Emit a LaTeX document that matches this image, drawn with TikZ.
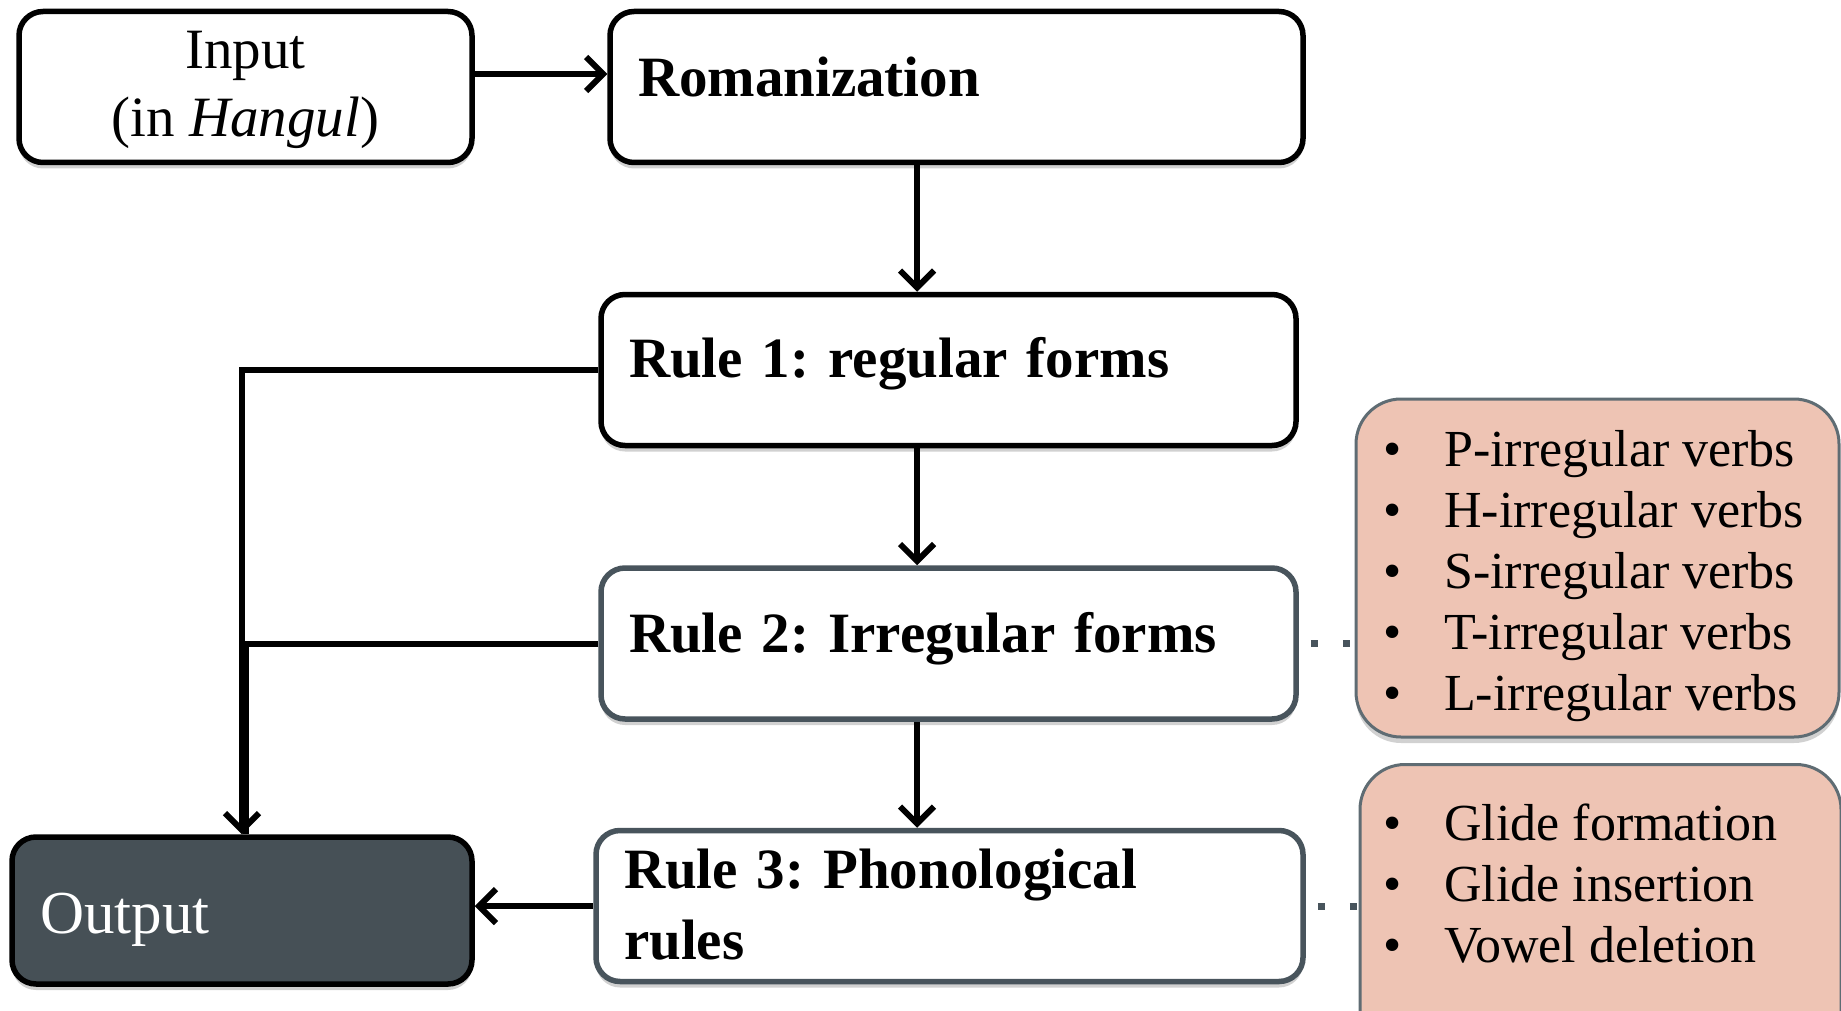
\documentclass[tikz,border=0pt]{standalone}
\usepackage{fontspec}
\setmainfont{Liberation Serif}
\usetikzlibrary{arrows.meta,shadows,calc}
\definecolor{slate}{RGB}{72,84,92}
\definecolor{outfill}{RGB}{70,80,86}
\definecolor{pinkfill}{RGB}{238,196,180}
\definecolor{pinkline}{RGB}{95,108,115}
\newcommand{\bitem}[1]{\makebox[61pt][l]{\textbullet}#1}
\newcommand{\up}[2]{\raisebox{#1}[\height][\depth]{#2}}
\frenchspacing
\begin{document}
\frenchspacing
\begin{tikzpicture}[x=1pt,y=-1pt,
  shade/.style={drop shadow={shadow xshift=0pt,shadow yshift=-6pt,opacity=0.18,fill=black}},
  box/.style={draw=black, line width=5.5pt, rounded corners=24pt, fill=white, shade,
     minimum height=151pt, inner ysep=0pt},
  leftbox/.style={box, inner xsep=28pt, align=left, text width=#1-56pt,
     font=\fontsize{57}{68}\selectfont\bfseries},
  pinkbox/.style={draw=pinkline, line width=3pt, rounded corners=45pt, fill=pinkfill, shade},
  listtext/.style={anchor=west, inner sep=0pt, align=left, font=\fontsize{52}{61}\selectfont},
  arr/.style={line width=6pt, -{Straight Barb[length=17pt,width=34pt,line width=6pt]}},
  link/.style={line width=6pt},
  dots/.style={draw=slate, line width=7pt, dash pattern=on 7pt off 25pt, dash phase=20pt}
]
\useasboundingbox (0,0) rectangle (1841,1011);
\fill[white] (0,0) rectangle (1841,1011);

\node[box, minimum width=453pt, align=center, font=\fontsize{57}{68}\selectfont]
  (input) at (245.5,87) {\up{-3pt}{Input}\\\up{-3pt}{(in \textit{Hangul})}};
\node[leftbox=693pt] (roman) at (956.5,87) {\up{10pt}{Romanization}};
\node[leftbox=695pt] (rule1) at (948.5,370) {\up{6pt}{Rule 1: regular forms}};
\node[leftbox=695pt, draw=slate] (rule2) at (948.5,643.5) {\up{5pt}{Rule 2: Irregular forms}};
\node[leftbox=707pt, draw=slate] (rule3) at (949.5,906) {\up{3pt}{Rule 3: Phonological}\\rules};
\node[box, fill=outfill, minimum width=460pt, minimum height=147pt, inner xsep=28pt,
  align=left, text width=404pt, text=white, font=\fontsize{61}{70}\selectfont]
  (output) at (242,910.5) {\up{-9pt}{Output}};

\node[pinkbox, minimum width=483pt, minimum height=338pt] (pink1) at (1597.5,568) {};
\node[listtext] (pink1text) at (1383,576)
  {\bitem{P-irregular verbs}\\\bitem{H-irregular verbs}\\\bitem{S-irregular verbs}\\
   \bitem{T-irregular verbs}\\\bitem{L-irregular verbs}};
\node[pinkbox, minimum width=481pt, minimum height=330pt, anchor=north] (pink2) at (1600.5,763) {};
\node[listtext] (pink2text) at (1383,884)
  {\bitem{Glide formation}\\\bitem{Glide insertion}\\\bitem{Vowel deletion}};

\coordinate (vx) at (917,0);
\draw[arr] ([yshift=13pt]input.east) -- ([yshift=13pt]roman.west);
\draw[arr] (roman.south -| vx) -- (rule1.north -| vx);
\draw[arr] (rule1.south -| vx) -- (rule2.north -| vx);
\draw[arr] (rule2.south -| vx) -- (rule3.north -| vx);
\draw[arr] (rule3.west) -- (rule3.west -| output.east);
\draw[link] (rule2.west) -| ([xshift=4pt]output.north);
\draw[arr] (rule1.west) -| (output.north);

\draw[dots] (rule2.east) -- (rule2.east -| pink1.west);
\draw[dots] (rule3.east) -- (rule3.east -| pink2.west);
\end{tikzpicture}
\end{document}
